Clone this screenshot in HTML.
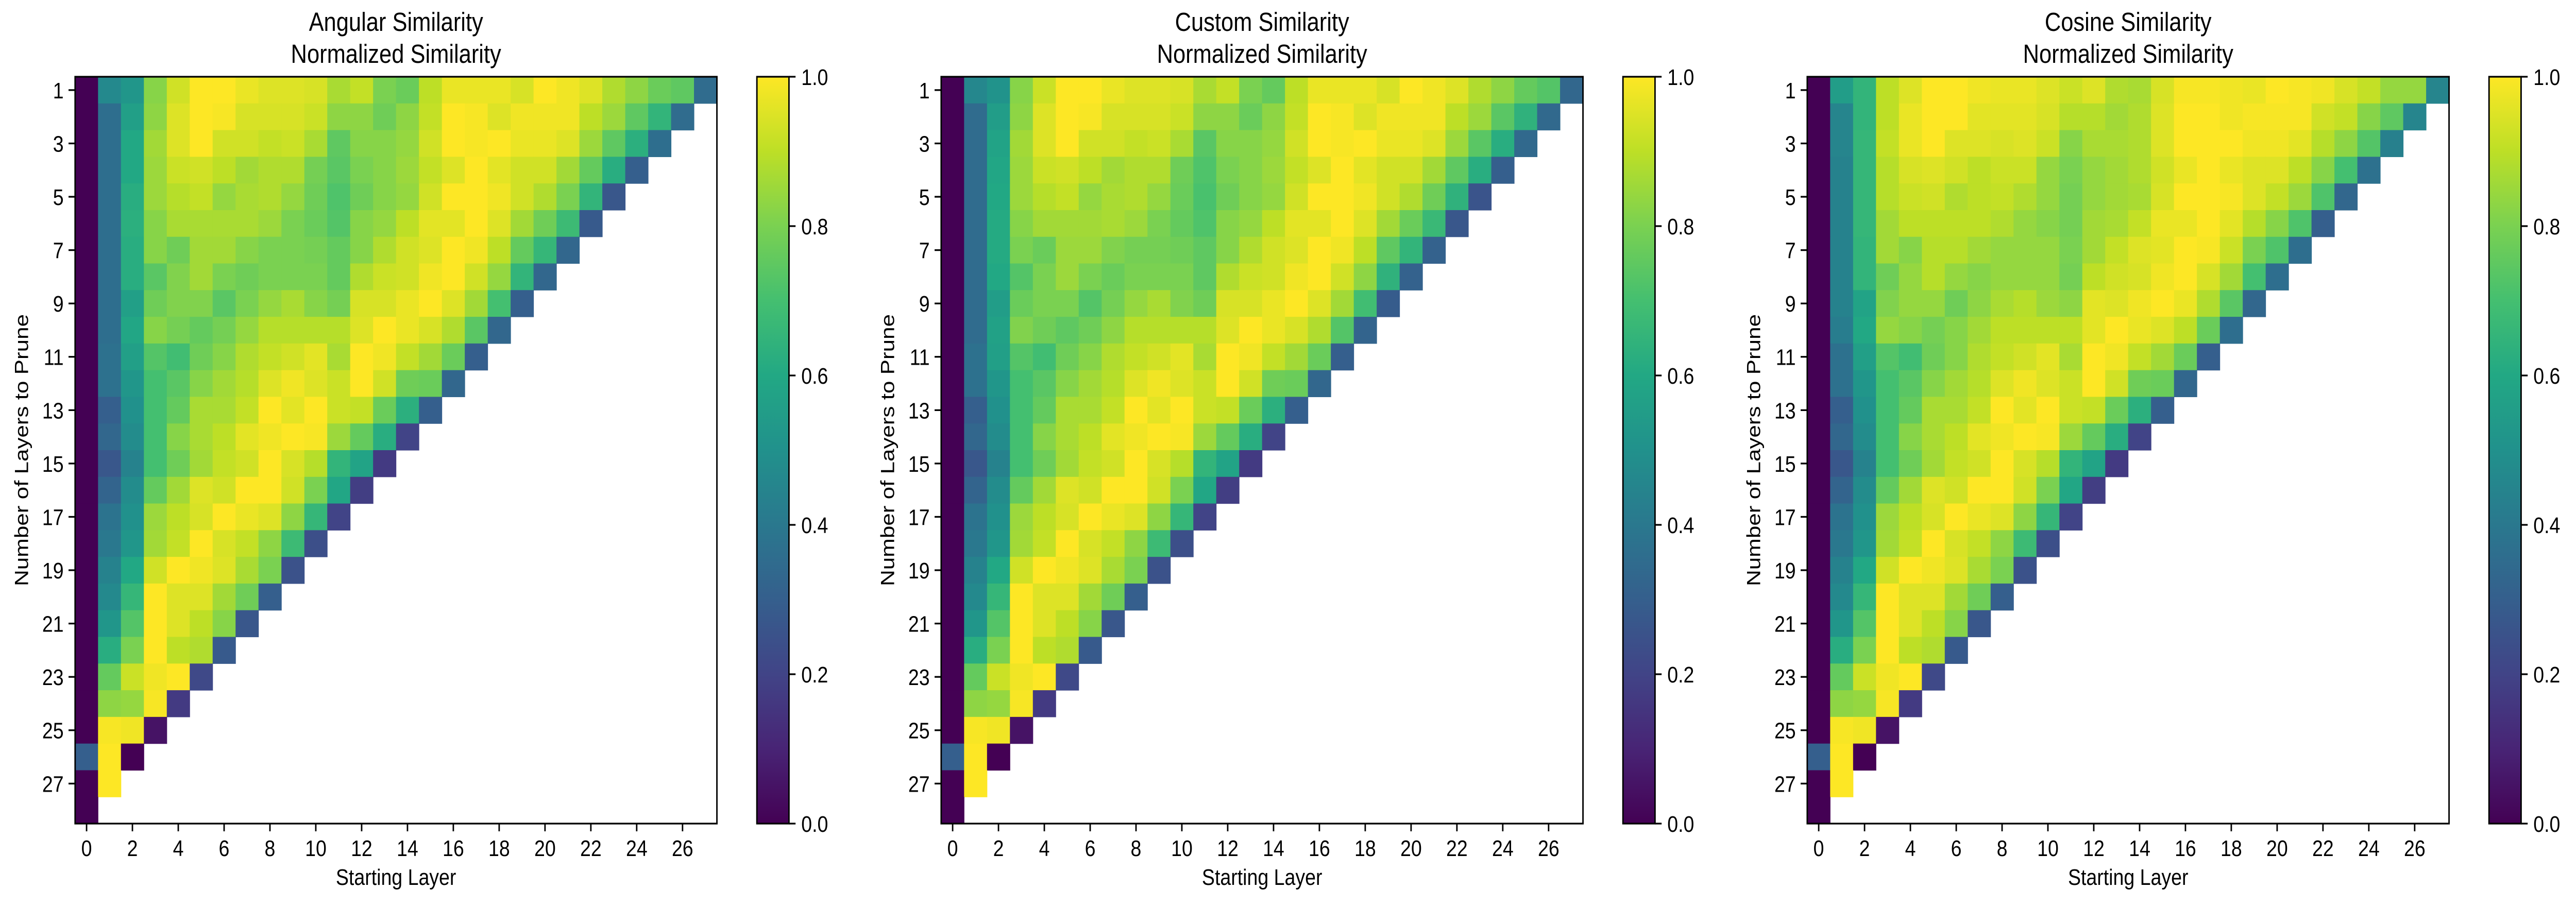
<!DOCTYPE html>
<html><head><meta charset="utf-8"><style>
html,body{margin:0;padding:0;background:#fff;overflow:hidden;width:100vw;height:100vh;}
svg{display:block;width:100vw;height:100vh;}
text{font-family:"Liberation Sans","DejaVu Sans",sans-serif;fill:#000;}
</style></head><body>
<svg id="fig" viewBox="0 0 5864 1759" preserveAspectRatio="none" xmlns="http://www.w3.org/2000/svg"></svg>
<script>
const titles = ["Angular Similarity","Custom Similarity","Cosine Similarity"];
const xTickLabels = [0,2,4,6,8,10,12,14,16,18,20,22,24,26];
const yTickLabels = [1,3,5,7,9,11,13,15,17,19,21,23,25,27];
const cbTickLabels = ["0.0","0.2","0.4","0.6","0.8","1.0"];
const cbTickValues = [0,0.2,0.4,0.6,0.8,1.0];

const lowerRows = [
[0,.37,.56,.73,.69,.78,.82,.88,.91,.93,.96,.87,1,.98,.91,.86,.77,.3],
[0,.37,.52,.7,.74,.82,.86,.89,.95,.98,.95,.92,1,.93,.78,.77,.33],
[0,.3,.5,.7,.76,.87,.87,.91,1,.96,1,.92,.91,.77,.63,.3],
[0,.33,.48,.7,.82,.87,.9,.96,.98,1,.99,.85,.76,.62,.2],
[0,.27,.44,.7,.78,.86,.91,.93,1,.94,.89,.65,.58,.17],
[0,.32,.48,.76,.86,.95,.93,1,1,.93,.8,.59,.18],
[0,.38,.5,.85,.9,.94,1,.97,.95,.83,.66,.2],
[0,.4,.52,.86,.91,1,.94,.91,.83,.68,.24],
[0,.44,.6,.93,1,.98,.95,.87,.8,.25],
[0,.47,.66,1,.95,.95,.86,.78,.3],
[0,.52,.73,1,.95,.9,.82,.27],
[0,.62,.8,1,.9,.88,.28],
[0,.76,.92,.98,1,.22],
[0,.83,.84,.99,.17],
[0,.99,.98,.05],
[.3,1,0],
[0,1],
[0]
];

const angularValues = [
[0,.47,.52,.82,.93,1,1,.97,.95,.95,.94,.87,.91,.8,.77,.9,.97,.97,.97,.94,1,.98,.95,.88,.83,.77,.75,.35],
[0,.36,.56,.83,.95,1,.99,.94,.94,.94,.92,.83,.83,.78,.83,.91,1,.99,.95,.98,.98,.98,.9,.85,.75,.65,.35],
[0,.36,.6,.86,.95,1,.93,.93,.91,.92,.87,.75,.82,.82,.84,.93,1,.99,1,.97,.97,.95,.85,.75,.63,.36],
[0,.36,.6,.85,.92,.93,.9,.86,.88,.88,.79,.74,.8,.82,.85,.91,.95,1,.96,.93,.93,.86,.76,.62,.3],
[0,.36,.62,.85,.89,.91,.84,.87,.88,.84,.78,.72,.78,.82,.84,.93,1,1,.98,.93,.88,.8,.65,.27],
[0,.36,.63,.82,.87,.87,.87,.87,.85,.8,.77,.73,.82,.84,.9,.96,.96,1,.95,.86,.78,.68,.28],
[0,.36,.62,.82,.78,.86,.86,.82,.8,.8,.79,.76,.82,.88,.93,.95,1,.98,.9,.76,.66,.33],
[0,.36,.62,.74,.81,.86,.8,.78,.8,.8,.8,.76,.88,.92,.93,.98,1,.93,.84,.65,.33],
[0,.36,.56,.78,.81,.81,.74,.8,.84,.87,.82,.79,.94,.94,.97,1,.95,.86,.7,.3],
[0,.36,.59,.82,.79,.76,.79,.84,.89,.89,.89,.89,.95,1,.97,.94,.88,.74,.33]
].concat(lowerRows);

const customValues = [
[0,.46,.51,.82,.92,1,1,.97,.95,.95,.94,.87,.91,.8,.76,.9,.97,.97,.97,.94,1,.98,.95,.88,.83,.76,.73,.33],
[0,.35,.55,.83,.95,1,.99,.94,.94,.94,.92,.83,.83,.77,.83,.91,1,.99,.95,.98,.98,.98,.9,.85,.74,.64,.34],
[0,.35,.58,.86,.95,1,.93,.93,.91,.92,.87,.74,.82,.82,.84,.93,1,.99,1,.97,.97,.95,.85,.74,.62,.34],
[0,.35,.59,.85,.92,.93,.9,.86,.88,.88,.78,.72,.8,.82,.85,.91,.95,1,.96,.93,.93,.86,.75,.62,.3],
[0,.35,.6,.85,.89,.91,.84,.87,.88,.84,.77,.71,.78,.82,.84,.93,1,1,.98,.93,.88,.78,.64,.26],
[0,.35,.61,.82,.86,.86,.86,.87,.85,.8,.76,.72,.82,.84,.9,.96,.96,1,.95,.86,.77,.67,.27],
[0,.35,.61,.8,.77,.85,.85,.81,.79,.79,.78,.75,.82,.88,.93,.95,1,.98,.9,.75,.65,.31],
[0,.35,.6,.73,.8,.85,.8,.77,.8,.8,.8,.75,.88,.92,.93,.98,1,.93,.83,.64,.31],
[0,.35,.55,.77,.8,.8,.73,.79,.84,.87,.81,.78,.94,.94,.97,1,.95,.86,.69,.29],
[0,.35,.57,.81,.78,.75,.78,.83,.89,.89,.89,.89,.95,1,.97,.94,.88,.73,.32]
].concat(lowerRows);

const cosineValues = [
[0,.55,.65,.9,.95,1,1,.98,.97,.97,.95,.92,.95,.88,.87,.94,.99,.99,.98,.97,1,.99,.98,.94,.91,.84,.84,.45],
[0,.45,.65,.9,.97,1,1,.96,.96,.96,.94,.89,.89,.86,.88,.95,1,1,.98,.99,.99,.99,.93,.91,.82,.75,.45],
[0,.45,.66,.91,.97,1,.95,.95,.94,.95,.92,.82,.87,.87,.88,.95,1,1,1,.98,.98,.96,.89,.83,.73,.43],
[0,.44,.66,.89,.94,.95,.93,.9,.92,.92,.84,.8,.84,.86,.88,.93,.97,1,.97,.95,.95,.9,.82,.7,.37],
[0,.44,.66,.89,.92,.93,.88,.9,.91,.88,.84,.79,.84,.86,.87,.94,1,1,.99,.95,.91,.85,.72,.33],
[0,.44,.66,.86,.9,.9,.9,.9,.88,.84,.82,.79,.86,.87,.91,.97,.97,1,.96,.89,.82,.72,.3],
[0,.44,.65,.86,.82,.89,.89,.86,.84,.84,.84,.8,.86,.91,.95,.96,1,.99,.92,.8,.72,.36],
[0,.44,.65,.78,.84,.89,.84,.82,.84,.84,.84,.79,.9,.93,.94,.98,1,.94,.86,.7,.36],
[0,.44,.58,.81,.84,.84,.78,.83,.87,.89,.85,.83,.96,.95,.98,1,.97,.88,.74,.33],
[0,.42,.6,.84,.82,.79,.82,.86,.9,.9,.9,.9,.96,1,.97,.95,.9,.77,.36]
].concat(lowerRows);

const panelValues = [angularValues, customValues, cosineValues];

const VIR = ["#440154","#482475","#414487","#355f8d","#2a788e","#21918c","#22a884","#44bf70","#7ad151","#bddf26","#fde725"];
function hex(h){return [parseInt(h.substr(1,2),16),parseInt(h.substr(3,2),16),parseInt(h.substr(5,2),16)];}
function viridis(v){
  v=Math.max(0,Math.min(1,v));
  const f=v*10, i=Math.min(9,Math.floor(f)), t=f-i;
  const a=hex(VIR[i]), b=hex(VIR[i+1]);
  return "rgb("+a.map((c,k)=>Math.round(c+(b[k]-c)*t)).join(",")+")";
}

const NS="http://www.w3.org/2000/svg";
const svg=document.getElementById("fig");
function mk(tag,attrs,parent){const e=document.createElementNS(NS,tag);for(const k in attrs)e.setAttribute(k,attrs[k]);(parent||svg).appendChild(e);return e;}

const N=28, X0=171, Y0=149, W=1461, H=1450, PANEL_DX=1971.5;
const CBX=1723, CBW=73;
const defs=mk("defs",{});
const grad=mk("linearGradient",{id:"vir",x1:"0",y1:"1",x2:"0",y2:"0"},defs);
VIR.forEach((c,i)=>{mk("stop",{offset:(i/10).toString(),"stop-color":c},grad);});

panelValues.forEach((vals,p)=>{
  const dx=p*PANEL_DX;
  const g=mk("g",{});
  
  
  const cw=W/N, ch=H/N;
  const xPos=c=>dx+X0+c*cw;
  const yPos=r=>Y0+r*ch;
  vals.forEach((row,r)=>{
    row.forEach((v,c)=>{
      const rect=mk("rect",{x:xPos(c),y:yPos(r),width:cw+0.6,height:ch+0.6,fill:viridis(v)},g);
      
      
    });
  });
  const frame=mk("rect",{x:dx+X0,y:Y0,width:W,height:H,fill:"none",stroke:"#000","stroke-width":3.3},g);
  
  
  xTickLabels.forEach(l=>{
    const cx=xPos(l)+cw/2;
    mk("line",{x1:cx,y1:Y0+H,x2:cx,y2:Y0+H+15,stroke:"#000","stroke-width":3.3},g);
    const t=mk("text",{x:cx,y:1662,"font-size":44,"text-anchor":"middle"},g);
    t.textContent=l;
    
    
  });
  yTickLabels.forEach(l=>{
    const cy=yPos(l-1)+ch/2;
    mk("line",{x1:dx+X0-15,y1:cy,x2:dx+X0,y2:cy,stroke:"#000","stroke-width":3.3},g);
    const t=mk("text",{x:dx+X0-26,y:cy+16,"font-size":44,"text-anchor":"end"},g);
    t.textContent=l;
    
    
  });
  const cxm=dx+X0+W/2;
  const t1=mk("text",{x:cxm,y:60,"font-size":51,"text-anchor":"middle"},g);
  t1.textContent=titles[p];
  
  
  const t2=mk("text",{x:cxm,y:122,"font-size":51,"text-anchor":"middle"},g);
  t2.textContent="Normalized Similarity";
  
  
  const xl=mk("text",{x:cxm,y:1718,"font-size":44,"text-anchor":"middle"},g);
  xl.textContent="Starting Layer";
  
  
  const yl=mk("text",{x:0,y:0,"font-size":44,"text-anchor":"middle",transform:"translate("+(dx+64)+","+(Y0+H/2)+") rotate(-90)"},g);
  yl.textContent="Number of Layers to Prune";
  
  
  const cb=mk("rect",{x:dx+CBX,y:Y0,width:CBW,height:H,fill:"url(#vir)",stroke:"#000","stroke-width":3.3},g);
  
  
  cbTickValues.forEach((v,i)=>{
    const cy=Y0+H-v*H;
    mk("line",{x1:dx+CBX+CBW,y1:cy,x2:dx+CBX+CBW+15,y2:cy,stroke:"#000","stroke-width":3.3},g);
    const t=mk("text",{x:dx+CBX+CBW+28,y:cy+16,"font-size":44},g);
    t.textContent=cbTickLabels[i];
    
    
  });
});
</script>
</body></html>
